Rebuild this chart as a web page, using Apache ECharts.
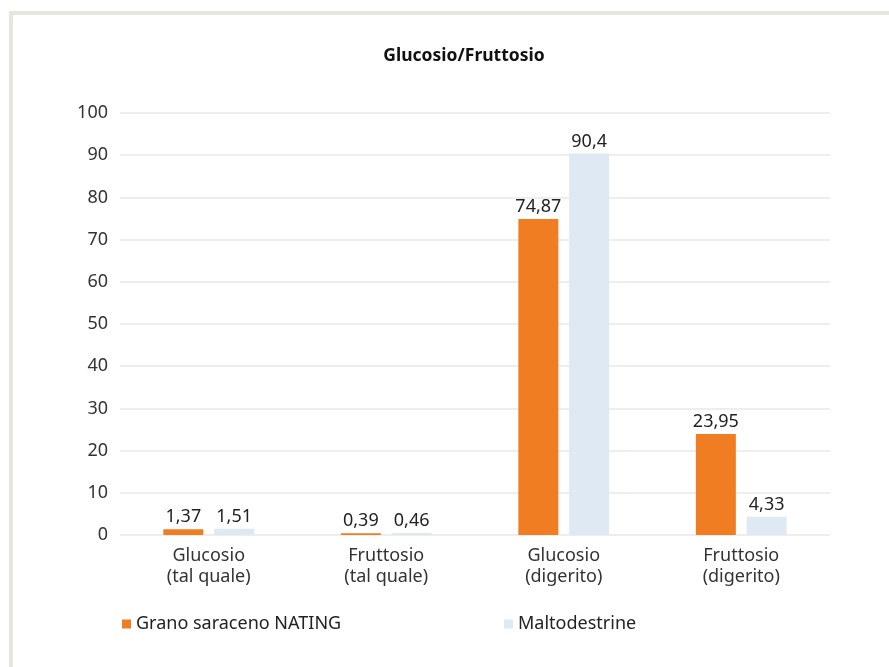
<!DOCTYPE html>
<html><head><meta charset="utf-8">
<script src="https://cdn.jsdelivr.net/npm/echarts@6/dist/echarts.min.js"></script>
<style>html,body{margin:0;padding:0;background:#fff}#c{width:889px;height:667px}</style>
</head><body><div id="c"></div>
<script>
const categories = ['Glucosio\n(tal quale)', 'Fruttosio\n(tal quale)', 'Glucosio\n(digerito)', 'Fruttosio\n(digerito)'];
const seriesNames = ['Grano saraceno NATING', 'Maltodestrine'];
const granoValues = [1.37, 0.39, 74.87, 23.95];
const maltoValues = [1.51, 0.46, 90.4, 4.33];
const yTicks = [0, 10, 20, 30, 40, 50, 60, 70, 80, 90, 100];

const font = '"Noto Sans", "Open Sans", sans-serif';
const chart = echarts.init(document.getElementById('c'));
const fmt = p => String(p.value).replace('.', ',');
chart.setOption({
  animation: false,
  backgroundColor: '#fff',
  graphic: [
    {type: 'rect', shape: {x: 9, y: 11, width: 880, height: 4}, style: {fill: '#e6e6dd'}, silent: true},
    {type: 'rect', shape: {x: 9, y: 11, width: 4, height: 656}, style: {fill: '#e6e6dd'}, silent: true}
  ],
  title: {
    text: 'Glucosio/Fruttosio', left: 459, top: 42, textAlign: 'center',
    textStyle: {fontFamily: font, fontSize: 17.5, fontWeight: 'bold', color: '#111'}
  },
  legend: [
    {data: [seriesNames[0]], left: 117, top: 610, icon: 'rect', itemWidth: 9, itemHeight: 9, itemGap: 11,
     textStyle: {fontFamily: font, fontSize: 18, color: '#222'}},
    {data: [seriesNames[1]], left: 499, top: 610, icon: 'rect', itemWidth: 9, itemHeight: 9, itemGap: 11,
     textStyle: {fontFamily: font, fontSize: 18, color: '#222'}}
  ],
  grid: {left: 120, right: 59, top: 113, bottom: 132, containLabel: false},
  xAxis: {
    type: 'category', data: categories,
    axisLine: {show: false}, axisTick: {show: false},
    axisLabel: {fontFamily: font, fontSize: 18, color: '#333', lineHeight: 21, margin: 10}
  },
  yAxis: {
    type: 'value', min: 0, max: 100, interval: 10,
    axisLine: {show: false}, axisTick: {show: false},
    splitLine: {lineStyle: {color: '#e9e9e9', width: 1.5}},
    axisLabel: {fontFamily: font, fontSize: 18, color: '#333', margin: 12,
      formatter: v => yTicks.includes(v) ? String(v) : ''}
  },
  series: [
    {name: seriesNames[0], type: 'bar', data: granoValues, barWidth: 40, barGap: '27%',
     itemStyle: {color: '#f07d22'},
     label: {show: true, position: 'top', distance: 3, formatter: fmt, fontFamily: font, fontSize: 18, color: '#222'}},
    {name: seriesNames[1], type: 'bar', data: maltoValues, barWidth: 40,
     itemStyle: {color: '#dfe9f4'},
     label: {show: true, position: 'top', distance: 3, formatter: fmt, fontFamily: font, fontSize: 18, color: '#222'}}
  ]
});
</script></body></html>
